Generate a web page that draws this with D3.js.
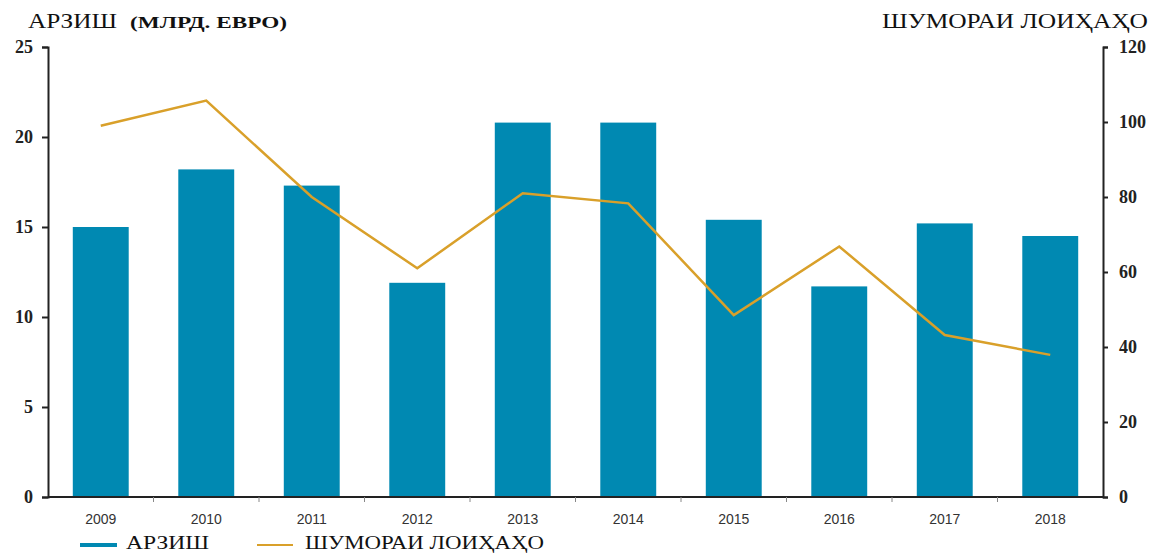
<!DOCTYPE html>
<html><head><meta charset="utf-8">
<script src="https://cdn.jsdelivr.net/npm/d3@7"></script>
<style>body{margin:0;background:#fff}svg{display:block}</style>
</head><body>
<svg id="c" width="1158" height="553"></svg>
<script>
const years = ["2009","2010","2011","2012","2013","2014","2015","2016","2017","2018"];
const values = [15.0,18.2,17.3,11.9,20.8,20.8,15.4,11.7,15.2,14.5];
const projects = [99,105.7,80,61,81,78.3,48.5,66.8,43.2,37.9];
const leftTicks = [0,5,10,15,20,25];
const rightTicks = [0,20,40,60,80,100,120];

const svg = d3.select("#c");
const m = {l:48, r:1103, t:47, b:497};
const x = d3.scaleBand().domain(years).range([m.l, m.r]).paddingInner(0.47).paddingOuter(0.235);
const yL = d3.scaleLinear().domain([0,25]).range([m.b, m.t]);
const yR = d3.scaleLinear().domain([0,120]).range([m.b, m.t]);
const blue = "#0089b2", gold = "#d9a02a";
const serif = "Liberation Serif, Times New Roman, serif";

svg.append("g").selectAll("rect").data(years).join("rect")
  .attr("x", d => x(d)).attr("width", x.bandwidth())
  .attr("y", (d,i) => yL(values[i])).attr("height", (d,i) => yL(0) - yL(values[i]))
  .attr("fill", blue);

svg.append("path").datum(projects)
  .attr("fill","none").attr("stroke",gold).attr("stroke-width",2.5)
  .attr("d", d3.line().x((d,i) => x(years[i]) + x.bandwidth()/2).y(d => yR(d)));

// x axis
const xb = d3.scaleLinear().domain([0,10]).range([m.l, m.r]);
const gx = svg.append("g").attr("transform",`translate(0,${m.b})`);
gx.append("line").attr("x1",m.l).attr("x2",m.r).attr("stroke","#222").attr("stroke-width",2);
gx.selectAll("line.t").data(d3.range(1,10)).join("line").attr("class","t")
  .attr("x1",d=>xb(d)).attr("x2",d=>xb(d)).attr("y1",0).attr("y2",5).attr("stroke","#888").attr("stroke-width",1);
gx.selectAll("text").data(years).join("text")
  .attr("x", d => x(d) + x.bandwidth()/2).attr("y", 27)
  .attr("text-anchor","middle").attr("font-family","Liberation Sans, Arial, sans-serif")
  .attr("font-size",14).attr("fill","#333").text(d=>d);

// left axis
const gl = svg.append("g").attr("transform",`translate(${m.l},0)`)
  .call(d3.axisLeft(yL).tickValues(leftTicks).tickSize(6).tickPadding(9));
gl.selectAll("path,line").attr("stroke","#222").attr("stroke-width",2);
gl.selectAll("text").attr("font-family",serif).attr("font-size",18).attr("font-weight","bold").attr("fill","#222");

// right axis
const gr = svg.append("g").attr("transform",`translate(${m.r},0)`)
  .call(d3.axisRight(yR).tickValues(rightTicks).tickSize(5).tickPadding(11));
gr.selectAll("path,line").attr("stroke","#222").attr("stroke-width",2);
gr.selectAll("text").attr("font-family",serif).attr("font-size",18).attr("font-weight","bold").attr("fill","#222");

// titles
svg.append("text").attr("x",28).attr("y",28).attr("font-family",serif).attr("font-size",20).attr("fill","#111")
  .attr("textLength",89).attr("lengthAdjust","spacingAndGlyphs").text("АРЗИШ");
svg.append("text").attr("x",130).attr("y",28).attr("font-family",serif).attr("font-size",17).attr("font-weight","bold").attr("fill","#111")
  .attr("textLength",157).attr("lengthAdjust","spacingAndGlyphs").text("(МЛРД. ЕВРО)");
svg.append("text").attr("x",882).attr("y",28)
  .attr("font-family",serif).attr("font-size",20).attr("fill","#111")
  .attr("textLength",266).attr("lengthAdjust","spacingAndGlyphs").text("ШУМОРАИ ЛОИҲАҲО");

// legend
const lg = svg.append("g");
lg.append("line").attr("x1",80).attr("x2",117).attr("y1",545).attr("y2",545).attr("stroke",blue).attr("stroke-width",4);
lg.append("text").attr("x",126).attr("y",549).attr("font-family",serif).attr("font-size",19).attr("fill","#111")
  .attr("textLength",83).attr("lengthAdjust","spacingAndGlyphs").text("АРЗИШ");
lg.append("line").attr("x1",257).attr("x2",293).attr("y1",545).attr("y2",545).attr("stroke",gold).attr("stroke-width",2);
lg.append("text").attr("x",305).attr("y",549).attr("font-family",serif).attr("font-size",19).attr("fill","#111")
  .attr("textLength",239).attr("lengthAdjust","spacingAndGlyphs").text("ШУМОРАИ ЛОИҲАҲО");
</script>
</body></html>
